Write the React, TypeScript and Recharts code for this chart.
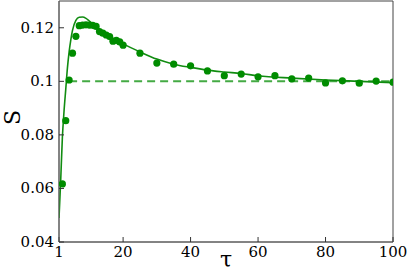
import {
  ComposedChart,
  Line,
  Scatter,
  XAxis,
  YAxis,
  Label,
  ReferenceLine,
  ReferenceArea
} from 'recharts';

// measured points (tau, S)
const tauPoints = [2, 3, 4, 5, 6, 7, 8, 9, 10, 11, 12, 13, 14, 15, 16, 17, 18, 19, 20, 25, 30, 35, 40, 45, 50, 55, 60, 65, 70, 75, 80, 85, 90, 95, 100];
const sPoints = [0.0617, 0.0853, 0.1005, 0.1105, 0.1168, 0.1208, 0.121, 0.1211, 0.121, 0.1209, 0.1205, 0.1186, 0.118, 0.1173, 0.1167, 0.115, 0.1153, 0.1147, 0.1135, 0.1105, 0.1068, 0.1064, 0.1058, 0.1039, 0.1021, 0.1027, 0.1017, 0.1021, 0.1009, 0.1012, 0.0994, 0.1002, 0.0993, 0.1001, 0.0997];

// fitted curve
const tauFit = [1, 1.5, 2, 2.5, 3, 3.5, 4, 4.5, 5, 6, 7, 8, 9, 10, 12, 14, 16, 18, 20, 25, 30, 35, 40, 45, 50, 55, 60, 70, 80, 90, 100];
const sFit = [0.049, 0.063, 0.079, 0.089, 0.097, 0.105, 0.111, 0.1155, 0.119, 0.1228, 0.1239, 0.124, 0.1235, 0.1225, 0.1205, 0.1185, 0.1168, 0.1153, 0.114, 0.111, 0.1083, 0.1064, 0.1052, 0.1042, 0.1035, 0.1029, 0.1021, 0.1012, 0.1005, 0.1, 0.0995];

const xTicks = [1, 20, 40, 60, 80, 100];
const yTicks = [0.04, 0.06, 0.08, 0.1, 0.12];
const plateau = 0.1;
const plateauFrom = 4;

const points = tauPoints.map((t, i) => ({ t, s: sPoints[i] }));
const fit = tauFit.map((t, i) => ({ t, s: sFit[i] }));

const FONT = "'DejaVu Serif', serif";

const XTick = ({ x, y, payload }: any) => (
  <text x={x} y={y} dy={12} textAnchor="middle" fontFamily={FONT} fontSize={15} fill="#000">
    {payload.value}
  </text>
);

const YTick = ({ x, y, payload }: any) => (
  <text x={x} y={y} dy={5} textAnchor="end" fontFamily={FONT} fontSize={15} fill="#000">
    {payload.value}
  </text>
);

export default function App() {
  return (
    <div style={{ position: 'absolute', left: 0, top: 0, background: '#fff' }}>
      <ComposedChart width={409} height={273} margin={{ top: 1, right: 16, bottom: 0, left: 0 }}>
        <XAxis
          dataKey="t"
          type="number"
          domain={[1, 100]}
          ticks={xTicks}
          allowDataOverflow
          height={31}
          stroke="#666"
          tickSize={-5}
          tickMargin={8}
          tick={<XTick />}
          tickLine={{ stroke: '#333' }}
        >
          <Label
            content={({ viewBox }: any) => (
              <text
                x={viewBox.x + viewBox.width / 2}
                y={viewBox.y + viewBox.height - 6}
                textAnchor="middle"
                fontFamily={FONT}
                fontSize={22}
                fill="#000"
              >
                τ
              </text>
            )}
          />
        </XAxis>
        <YAxis
          dataKey="s"
          type="number"
          domain={[0.04, 0.13]}
          ticks={yTicks}
          allowDataOverflow
          width={59}
          stroke="#666"
          tickSize={-5}
          tickMargin={10}
          tick={<YTick />}
          tickLine={{ stroke: '#333' }}
        >
          <Label
            content={({ viewBox }: any) => {
              const cx = viewBox.x + 20;
              const cy = viewBox.y + viewBox.height / 2 - 4;
              return (
                <text
                  x={cx}
                  y={cy}
                  transform={`rotate(-90, ${cx}, ${cy})`}
                  textAnchor="middle"
                  fontFamily={FONT}
                  fontSize={22}
                  fill="#000"
                >
                  S
                </text>
              );
            }}
          />
        </YAxis>
        <ReferenceArea x1={1} x2={100} y1={0.04} y2={0.13} fill="none" stroke="#444" strokeWidth={1} ifOverflow="visible" />
        <ReferenceLine
          segment={[{ x: plateauFrom, y: plateau }, { x: 100, y: plateau }]}
          stroke="#44aa44"
          strokeWidth={2}
          strokeDasharray="8 5"
        />
        <Line
          data={fit}
          dataKey="s"
          type="monotone"
          stroke="#118c11"
          strokeWidth={1.6}
          dot={false}
          isAnimationActive={false}
        />
        <Scatter
          data={points}
          dataKey="s"
          fill="#008c00"
          shape={(p: any) => <circle cx={p.cx} cy={p.cy} r={3.6} fill="#008c00" />}
          isAnimationActive={false}
        />
      </ComposedChart>
    </div>
  );
}
